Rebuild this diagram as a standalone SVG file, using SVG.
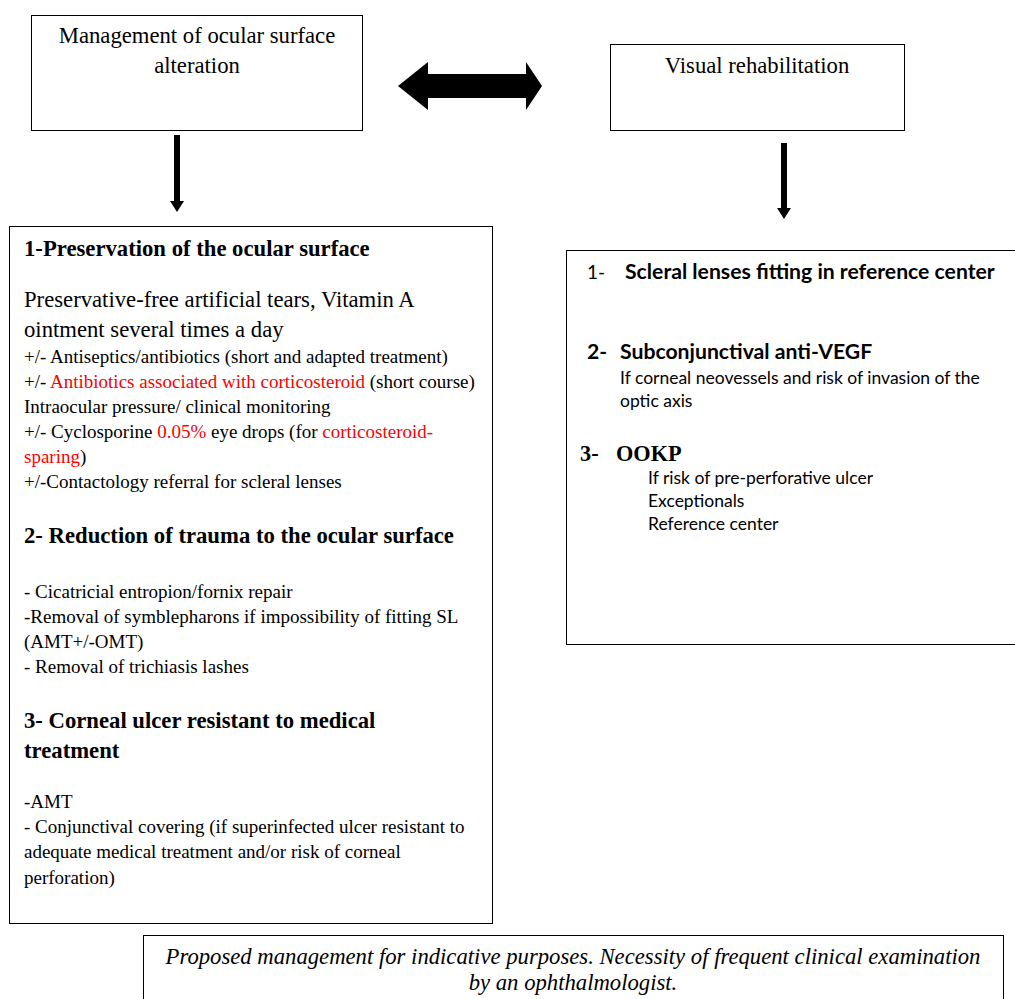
<svg xmlns="http://www.w3.org/2000/svg" width="1015" height="999" viewBox="0 0 1015 999">
<style>
.box{fill:#fff;stroke:#000;stroke-width:1}
.b{font-weight:bold}
.r{fill:#ff0000}
.s19{font-size:19px}
.s23{font-size:22.7px}
.c17{font-size:17.5px}
</style>
<rect width="1015" height="999" fill="#fff"/>
<g id="connectors" fill="#000">
<polygon points="398,86 428,62 428,74 526,74 526,62 542,86 526,110 526,98 428,98 428,110"/>
<polygon points="174,135 180,135 180,201 184,201 177,212 170,201 174,201"/>
<polygon points="781,143 787,143 787,208 791,208 784,219 777,208 781,208"/>
</g>
<g id="node-management" font-family="Liberation Serif, serif">
<rect class="box" x="31.5" y="15.5" width="331" height="115"/>
<text class="s23" x="197" y="43" text-anchor="middle">Management of ocular surface</text>
<text class="s23" x="197" y="73" text-anchor="middle">alteration</text>
</g>
<g id="node-visual" font-family="Liberation Serif, serif">
<rect class="box" x="610.5" y="44.5" width="294" height="86"/>
<text class="s23" x="757" y="73" text-anchor="middle">Visual rehabilitation</text>
</g>
<g id="node-left" font-family="Liberation Serif, serif">
<rect class="box" x="9.5" y="226.5" width="483" height="697"/>
<text class="s23 b" x="24" y="256">1-Preservation of the ocular surface</text>
<text class="s23" x="24" y="307">Preservative-free artificial tears, Vitamin A</text>
<text class="s23" x="24" y="337">ointment several times a day</text>
<text class="s19" x="24" y="363">+/- Antiseptics/antibiotics (short and adapted treatment)</text>
<text class="s19" x="24" y="388">+/- <tspan class="r">Antibiotics associated with corticosteroid</tspan> (short course)</text>
<text class="s19" x="24" y="413">Intraocular pressure/ clinical monitoring</text>
<text class="s19" x="24" y="438">+/- Cyclosporine <tspan class="r">0.05%</tspan> eye drops (for <tspan class="r">corticosteroid-</tspan></text>
<text class="s19" x="24" y="463"><tspan class="r">sparing</tspan>)</text>
<text class="s19" x="24" y="488">+/-Contactology referral for scleral lenses</text>
<text class="s23 b" x="24" y="543">2- Reduction of trauma to the ocular surface</text>
<text class="s19" x="24" y="598">- Cicatricial entropion/fornix repair</text>
<text class="s19" x="24" y="623">-Removal of symblepharons if impossibility of fitting SL</text>
<text class="s19" x="24" y="648">(AMT+/-OMT)</text>
<text class="s19" x="24" y="673">- Removal of trichiasis lashes</text>
<text class="s23 b" x="24" y="728">3- Corneal ulcer resistant to medical</text>
<text class="s23 b" x="24" y="758">treatment</text>
<text class="s19" x="24" y="808">-AMT</text>
<text class="s19" x="24" y="833">- Conjunctival covering (if superinfected ulcer resistant to</text>
<text class="s19" x="24" y="858">adequate medical treatment and/or risk of corneal</text>
<text class="s19" x="24" y="884">perforation)</text>
</g>
<g id="node-right" font-family="Lato, Liberation Sans, sans-serif">
<rect class="box" x="566.5" y="250.5" width="460" height="394"/>
<text font-size="19" x="587" y="279">1-</text>
<text class="b" font-size="21.2" x="625" y="279">Scleral lenses fitting in reference center</text>
<text class="b" font-size="21.2" x="587" y="359">2-</text>
<text class="b" font-size="21.2" x="620" y="359">Subconjunctival anti-VEGF</text>
<text class="c17" x="620" y="384">If corneal neovessels and risk of invasion of the</text>
<text class="c17" x="620" y="407">optic axis</text>
<text class="b" font-family="Liberation Serif, serif" font-size="22.3" x="580" y="461">3-</text>
<text class="b" font-family="Liberation Serif, serif" font-size="22.3" x="616" y="461">OOKP</text>
<text class="c17" x="648" y="484">If risk of pre-perforative ulcer</text>
<text class="c17" x="648" y="507">Exceptionals</text>
<text class="c17" x="648" y="530">Reference center</text>
</g>
<g id="node-footer" font-family="Liberation Serif, serif">
<rect class="box" x="143.5" y="935.5" width="860" height="80"/>
<text class="s23" font-style="italic" x="573" y="964" text-anchor="middle">Proposed management for indicative purposes. Necessity of frequent clinical examination</text>
<text class="s23" font-style="italic" x="573" y="990" text-anchor="middle">by an ophthalmologist.</text>
</g>
</svg>
